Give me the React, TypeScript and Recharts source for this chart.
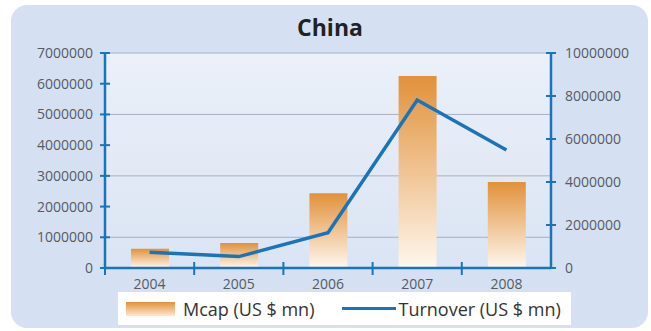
import React from "react"
import { Bar, CartesianGrid, ComposedChart, Line, XAxis, YAxis } from "recharts"

const years = ["2004", "2005", "2006", "2007", "2008"]
const mcap = [630000, 810000, 2430000, 6250000, 2800000]
const turnover = [730000, 530000, 1640000, 7810000, 5490000]
const leftTicks = [0, 1000000, 2000000, 3000000, 4000000, 5000000, 6000000, 7000000]
const rightTicks = [0, 2000000, 4000000, 6000000, 8000000, 10000000]
const gridValues = [1000000, 3000000, 5000000, 7000000]
const mcapLabel = "Mcap (US $ mn)"
const turnoverLabel = "Turnover (US $ mn)"

const data = years.map((year, i) => ({ year, mcap: mcap[i], turnover: turnover[i] }))

const W = 651
const H = 331
const plotLeft = 105
const plotRight = 551
const band = (plotRight - plotLeft) / years.length
const blue = "#1a74b9"
const labelColor = "#555b63"
const font = "'Open Sans', sans-serif"

function LeftTick({ x, y, payload }: any) {
  return (
    <g>
      <line x1={x - 5} x2={x + 5} y1={y} y2={y} stroke={blue} strokeWidth={2} />
      <text x={x - 12} y={y} dy={5} textAnchor="end" fontSize={14} fill={labelColor} fontFamily={font}>
        {payload.value}
      </text>
    </g>
  )
}

function RightTick({ x, y, payload }: any) {
  return (
    <g>
      <line x1={x - 5} x2={x + 5} y1={y} y2={y} stroke={blue} strokeWidth={2} />
      <text x={x + 14} y={y} dy={5} textAnchor="start" fontSize={14} fill={labelColor} fontFamily={font}>
        {payload.value}
      </text>
    </g>
  )
}

function BottomTick({ x, y, payload }: any) {
  return (
    <g>
      <line x1={x - band / 2} x2={x - band / 2} y1={y - 6} y2={y + 7} stroke={blue} strokeWidth={2} />
      <text x={x} y={y + 21} textAnchor="middle" fontSize={14} fill={labelColor} fontFamily={font}>
        {payload.value}
      </text>
    </g>
  )
}

export default function App() {
  return (
    <div style={{ position: "absolute", left: 0, top: 0, width: W, height: H, background: "#fff", fontFamily: font }}>
      <div
        style={{
          position: "absolute",
          left: 11,
          top: 5,
          width: 637,
          height: 323,
          borderRadius: 16,
          background: "#d5e1f2",
        }}
      />
      <div
        style={{
          position: "absolute",
          left: 0,
          top: 11,
          width: 660,
          textAlign: "center",
          fontSize: 23,
          fontWeight: 700,
          color: "#222",
        }}
      >
        China
      </div>
      <div style={{ position: "absolute", left: 0, top: 0 }}>
        <ComposedChart width={W} height={H} data={data} margin={{ top: 53, right: 10, bottom: 23, left: 10 }}>
          <defs>
            <linearGradient id="plotBg" x1="0" y1="0" x2="0" y2="1">
              <stop offset="0%" stopColor="#ebf0f9" />
              <stop offset="100%" stopColor="#dae4f3" />
            </linearGradient>
            <linearGradient id="barFill" x1="0" y1="0" x2="0" y2="1">
              <stop offset="0%" stopColor="#e2913a" />
              <stop offset="100%" stopColor="#fef7ee" />
            </linearGradient>
          </defs>
          <CartesianGrid
            yAxisId="left"
            vertical={false}
            horizontalValues={gridValues}
            stroke="#a7b1c0"
            fill="url(#plotBg)"
            fillOpacity={1}
          />
          <XAxis
            dataKey="year"
            axisLine={{ stroke: blue, strokeWidth: 2.5 }}
            tickLine={false}
            tickSize={0}
            tickMargin={0}
            height={40}
            tick={<BottomTick />}
            interval={0}
          />
          <YAxis
            yAxisId="left"
            orientation="left"
            domain={[0, 7000000]}
            ticks={leftTicks}
            width={95}
            axisLine={{ stroke: blue, strokeWidth: 2.5 }}
            tickLine={false}
            tickSize={0}
            tickMargin={0}
            tick={<LeftTick />}
            interval={0}
          />
          <YAxis
            yAxisId="right"
            orientation="right"
            domain={[0, 10000000]}
            ticks={rightTicks}
            width={90}
            axisLine={{ stroke: blue, strokeWidth: 2.5 }}
            tickLine={false}
            tickSize={0}
            tickMargin={0}
            tick={<RightTick />}
            interval={0}
          />
          <Bar yAxisId="left" dataKey="mcap" name={mcapLabel} fill="url(#barFill)" barSize={38} isAnimationActive={false} />
          <Line
            yAxisId="right"
            dataKey="turnover"
            name={turnoverLabel}
            type="linear"
            stroke={blue}
            strokeWidth={3.5}
            dot={false}
            isAnimationActive={false}
          />
        </ComposedChart>
      </div>
      <div
        style={{
          position: "absolute",
          left: 118,
          top: 292,
          width: 453,
          height: 33,
          background: "#fff",
          display: "flex",
          alignItems: "center",
          fontSize: 18,
          color: "#333",
          whiteSpace: "nowrap",
        }}
      >
        <div
          style={{
            marginLeft: 8,
            width: 49,
            height: 14,
            background: "linear-gradient(#e2913a, #fde8cf)",
          }}
        />
        <span style={{ marginLeft: 8 }}>{mcapLabel}</span>
        <div style={{ marginLeft: 28, width: 54, height: 3.5, background: blue }} />
        <span style={{ marginLeft: 2 }}>{turnoverLabel}</span>
      </div>
    </div>
  )
}
